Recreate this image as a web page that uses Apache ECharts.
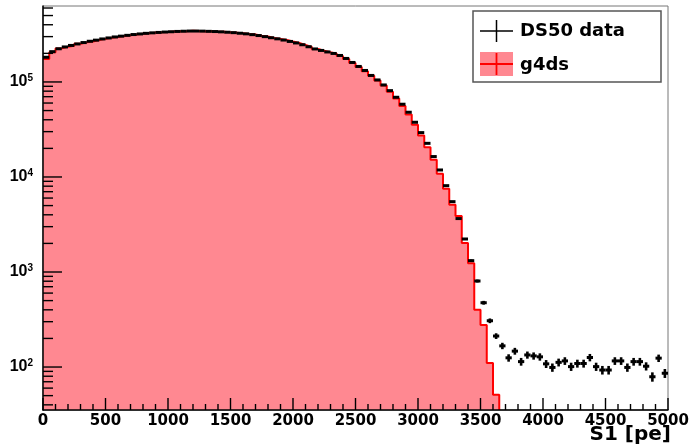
<!DOCTYPE html>
<html>
<head>
<meta charset="utf-8">
<script src="https://cdn.jsdelivr.net/npm/echarts@6/dist/echarts.min.js"></script>
<style>
html,body{margin:0;padding:0;background:#fff;}
#chart{width:693px;height:444px;}
</style>
</head>
<body>
<div id="chart"></div>
<script>
// ---- data ----
const binWidth = 50;
const binLowEdges = Array.from({length: 100}, (_, i) => i * binWidth);

const ds50Counts = [
  182000, 208400, 223600, 233600, 242300, 251200, 259800, 268100, 275400, 283500,
  290500, 297600, 303400, 309400, 315500, 320100, 324800, 328700, 332000, 335200,
  337600, 340100, 341800, 343400, 343400, 342600, 340900, 339300, 336800, 333600,
  330300, 325600, 320900, 314700, 307900, 299800, 291900, 284300, 276100, 266900,
  257300, 246400, 234700, 222500, 214600, 206900, 199500, 190000, 176800, 160400,
  145600, 132100, 117100, 105000, 93000, 81000, 69000, 58300, 48000, 37650,
  29300, 22600, 16400, 11850, 8100, 5500, 3650, 2225, 1316, 804,
  475, 307, 212, 167, 125, 147, 114, 134, 131, 128,
  108, 99, 112, 116, 101, 109, 109, 126, 101, 93,
  93, 116, 116, 99, 114, 114, 102, 79, 124, 86
];

const g4dsCounts = [
  174600, 206000, 225500, 235000, 241000, 253000, 261000, 267000, 276500, 284000,
  292000, 297000, 305000, 310500, 316000, 321500, 326000, 330500, 333000, 336000,
  339500, 341500, 342500, 345500, 344500, 342000, 341500, 338500, 337500, 333000,
  330000, 326500, 320000, 315000, 307000, 300500, 291000, 283500, 276000, 266000,
  256500, 245500, 234000, 222000, 213500, 205500, 198500, 187000, 174000, 158000,
  143500, 130000, 116000, 103500, 91500, 79000, 67000, 56000, 45500, 35500,
  27300, 20500, 15200, 10800, 7500, 5100, 3880, 2020, 1240, 400,
  277, 110, 51
];

const xTicks = [0, 500, 1000, 1500, 2000, 2500, 3000, 3500, 4000, 4500, 5000];
const xMinorTicks = [
  100, 200, 300, 400, 600, 700, 800, 900, 1100, 1200, 1300, 1400,
  1600, 1700, 1800, 1900, 2100, 2200, 2300, 2400, 2600, 2700, 2800, 2900,
  3100, 3200, 3300, 3400, 3600, 3700, 3800, 3900, 4100, 4200, 4300, 4400,
  4600, 4700, 4800, 4900
];
const yMajorTicks = [100, 1000, 10000, 100000];
const yMinorTicks = [
  40, 50, 60, 70, 80, 90,
  200, 300, 400, 500, 600, 700, 800, 900,
  2000, 3000, 4000, 5000, 6000, 7000, 8000, 9000,
  20000, 30000, 40000, 50000, 60000, 70000, 80000, 90000,
  200000, 300000, 400000, 500000, 600000
];

const yMin = 35.3;
const yMax = 630000;
const xMin = 0;
const xMax = 5000;

// ---- build series data ----
const mcStep = [];
let lastEdge = 0;
g4dsCounts.forEach((v, i) => {
  const lo = binLowEdges[i];
  mcStep.push([lo, v]);
  mcStep.push([lo + binWidth, v]);
  lastEdge = lo + binWidth;
});
mcStep.push([lastEdge, yMin]);

const dataPts = ds50Counts.map((v, i) => [binLowEdges[i] + binWidth / 2, v, Math.sqrt(v)]);

function tickSeries(name, pts, size, offset) {
  return {
    name: name, type: 'scatter', data: pts, symbol: 'rect',
    symbolSize: size, symbolOffset: offset,
    itemStyle: {color: '#000', opacity: 1},
    z: 8, clip: false, silent: true, animation: false,
    emphasis: {disabled: true}
  };
}

const chart = echarts.init(document.getElementById('chart'), null, {renderer: 'canvas'});

const legendGraphics = [
  {type: 'rect', shape: {x: 473, y: 11, width: 188, height: 71}, style: {fill: '#fff', stroke: '#555', lineWidth: 1.5}, z: 10},
  {type: 'line', shape: {x1: 480, y1: 31, x2: 513, y2: 31}, style: {stroke: '#000', lineWidth: 1.5}, z: 11},
  {type: 'line', shape: {x1: 496.5, y1: 20, x2: 496.5, y2: 42}, style: {stroke: '#000', lineWidth: 1.5}, z: 11},
  {type: 'text', x: 520, y: 31, style: {text: 'DS50 data', fontFamily: 'DejaVu Sans', fontWeight: 'bold', fontSize: 18, fill: '#000', verticalAlign: 'middle', align: 'left'}, z: 11},
  {type: 'rect', shape: {x: 480, y: 52, width: 33, height: 24}, style: {fill: '#ff8891'}, z: 11},
  {type: 'line', shape: {x1: 480, y1: 64, x2: 513, y2: 64}, style: {stroke: '#ff0000', lineWidth: 1.8}, z: 12},
  {type: 'line', shape: {x1: 496.5, y1: 53, x2: 496.5, y2: 75}, style: {stroke: '#ff0000', lineWidth: 1.8}, z: 12},
  {type: 'text', x: 520, y: 65, style: {text: 'g4ds', fontFamily: 'DejaVu Sans', fontWeight: 'bold', fontSize: 18, fill: '#000', verticalAlign: 'middle', align: 'left'}, z: 11},
  {type: 'text', x: 671, y: 435, style: {text: 'S1 [pe]', fontFamily: 'DejaVu Sans', fontWeight: 'bold', fontSize: 20, fill: '#000', verticalAlign: 'middle', align: 'right'}, z: 11}
];

const option = {
  animation: false,
  backgroundColor: '#ffffff',
  grid: {
    left: 43, right: 25, top: 6, bottom: 34,
    show: true, borderColor: '#777', borderWidth: 1, backgroundColor: 'transparent'
  },
  xAxis: {
    type: 'value', min: xMin, max: xMax, interval: 500, z: 10,
    axisLine: {show: true, onZero: false, lineStyle: {color: '#000', width: 1.5}},
    axisTick: {show: false},
    minorTick: {show: false},
    splitLine: {show: false},
    axisLabel: {
      formatter: function (v) { return String(v); },
      color: '#000', fontFamily: 'DejaVu Sans', fontWeight: 'bold', fontSize: 15, margin: 4,
      showMinLabel: true, showMaxLabel: true
    }
  },
  yAxis: [
    {
      type: 'log', logBase: 10, min: yMin, max: yMax, z: 10,
      axisLine: {show: true, onZero: false, lineStyle: {color: '#000', width: 1.5}},
      axisTick: {show: false},
      splitLine: {show: false},
      axisLabel: {
        customValues: yMajorTicks,
        margin: 10,
        formatter: function (val) {
          return '{b|10}{s|' + Math.round(Math.log10(val)) + '}';
        },
        rich: {
          b: {fontFamily: 'Liberation Sans', fontWeight: 'bold', fontSize: 16, color: '#000', lineHeight: 18},
          s: {fontFamily: 'Liberation Sans', fontWeight: 'bold', fontSize: 10, color: '#000', verticalAlign: 'top', lineHeight: 12}
        }
      }
    }
  ],
  series: [
    {
      name: 'g4ds', type: 'line', data: mcStep, symbol: 'none',
      lineStyle: {color: '#ff0000', width: 2},
      areaStyle: {color: '#ff8891', opacity: 1, origin: 'start'},
      z: 2, clip: true
    },
    {
      name: 'DS50 data', type: 'custom', data: dataPts, z: 3, clip: true,
      renderItem: function (params, api) {
        const x = api.value(0), v = api.value(1), e = api.value(2);
        const pL = api.coord([x - binWidth / 2, v]);
        const pR = api.coord([x + binWidth / 2, v]);
        const pT = api.coord([x, v + e]);
        const pB = api.coord([x, Math.max(v - e, 1)]);
        return {
          type: 'group',
          children: [
            {type: 'line', shape: {x1: pL[0], y1: pL[1], x2: pR[0], y2: pR[1]}, style: {stroke: '#000', lineWidth: 3}},
            {type: 'line', shape: {x1: pT[0], y1: pT[1], x2: pB[0], y2: pB[1]}, style: {stroke: '#000', lineWidth: 2.6}}
          ]
        };
      }
    },
    tickSeries('y major ticks', yMajorTicks.map(v => [xMin, v]), [19, 1.4], [9.5, 0]),
    tickSeries('y minor ticks', yMinorTicks.map(v => [xMin, v]), [10, 1.4], [5, 0]),
    tickSeries('x major ticks', xTicks.map(v => [v, yMin]), [1.4, 12], [0, -6]),
    tickSeries('x minor ticks', xMinorTicks.map(v => [v, yMin]), [1.4, 6], [0, -3])
  ],
  graphic: legendGraphics
};
chart.setOption(option);
</script>
</body>
</html>
